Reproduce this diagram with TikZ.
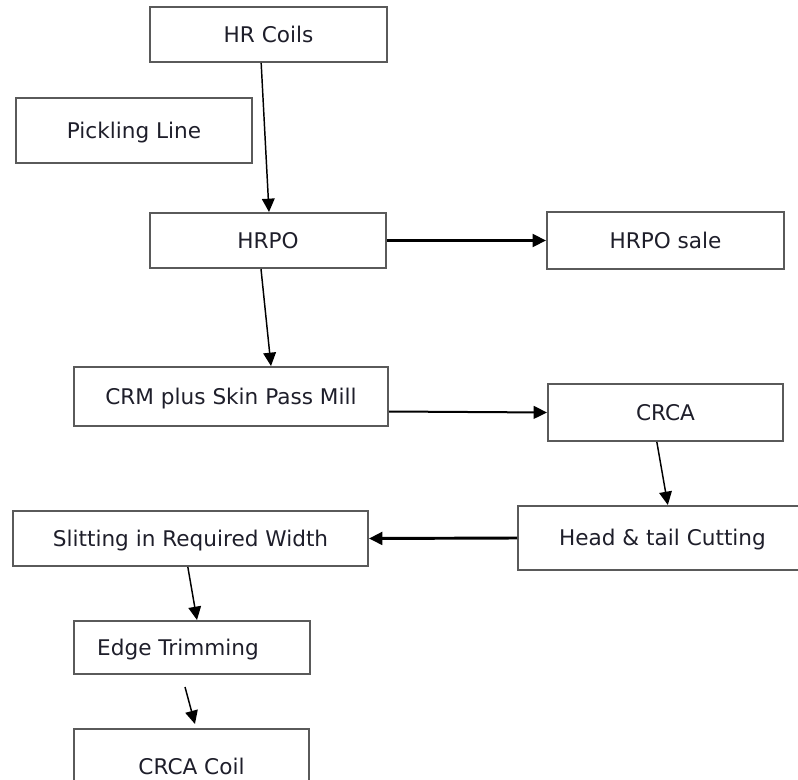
\documentclass[tikz,border=0pt]{standalone}
\usepackage{fontspec}
\setmainfont{DejaVu Sans}
\usetikzlibrary{arrows.meta}
\definecolor{boxline}{HTML}{5A5A5A}
\definecolor{inktext}{HTML}{1E1E2A}
\begin{document}
\begin{tikzpicture}[x=0.75pt,y=-0.75pt,
  stage/.style={draw=boxline, line width=1.5pt, rectangle, inner sep=0pt,
    text=inktext, font=\fontsize{16.2pt}{19pt}\selectfont,
    text height=11.8pt, text depth=0pt},
  flow/.style={draw=black, line width=1.1pt,
    -{Triangle[length=10pt,width=9.5pt]}},
  mainflow/.style={flow, line width=2.2pt}
]
\useasboundingbox (0,0) rectangle (798,780);

% process stages
\node[stage, minimum width=177.75pt, minimum height=41.25pt] (hr)    at (268.5,34.5)  {HR Coils};
\node[stage, minimum width=177pt,    minimum height=48.75pt] (pick)  at (134,130.5)  {Pickling Line};
\node[stage, minimum width=177pt,    minimum height=41.25pt] (hrpo)  at (268,240.5)  {HRPO};
\node[stage, minimum width=177.75pt, minimum height=42.75pt] (sale)  at (665.5,240.5) {HRPO sale};
\node[stage, minimum width=235.5pt,  minimum height=44.25pt] (crm)   at (231,396.5)  {CRM plus Skin Pass Mill};
\node[stage, minimum width=176.25pt, minimum height=42.75pt] (crca)  at (665.5,412.5) {CRCA};
\node[stage, minimum width=216.75pt, minimum height=48pt]    (head)  at (662.5,538)  {Head \& tail Cutting};
\node[stage, minimum width=266.25pt, minimum height=41.25pt] (slit)  at (190.5,538.5) {Slitting in Required Width};
\node[stage, minimum width=177pt,    minimum height=39.75pt] (edge)  at (192,647.5)  {Edge Trimming\hspace*{21pt}};
\node[stage, minimum width=176.25pt, minimum height=57pt]    (coil)  at (191.5,767)  {CRCA Coil};

% connectors
\draw[flow] ([xshift=-5.5pt]hr.south) -- ([xshift=0.75pt]hrpo.north);
\draw[flow] ([xshift=-5.25pt]hrpo.south) -- ([xshift=30pt]crm.north);
\draw[mainflow] ([yshift=0pt]hrpo.east) -- (sale.west);
\draw[flow, line width=1.5pt] ([yshift=-11.25pt]crm.east) -- (crca.west);
\draw[flow] ([xshift=-6.5pt]crca.south) -- ([xshift=4pt]head.north);
\draw[mainflow] (head.west) -- (slit.east);
\draw[flow] ([xshift=-2pt]slit.south) -- ([xshift=3.75pt]edge.north);
\coordinate (trimout) at ([xshift=-5.25pt,yshift=-9pt]edge.south);
\coordinate (coilin) at ([xshift=2.6pt,yshift=3pt]coil.north);
\draw[flow] (trimout) -- (coilin);
\end{tikzpicture}
\end{document}
